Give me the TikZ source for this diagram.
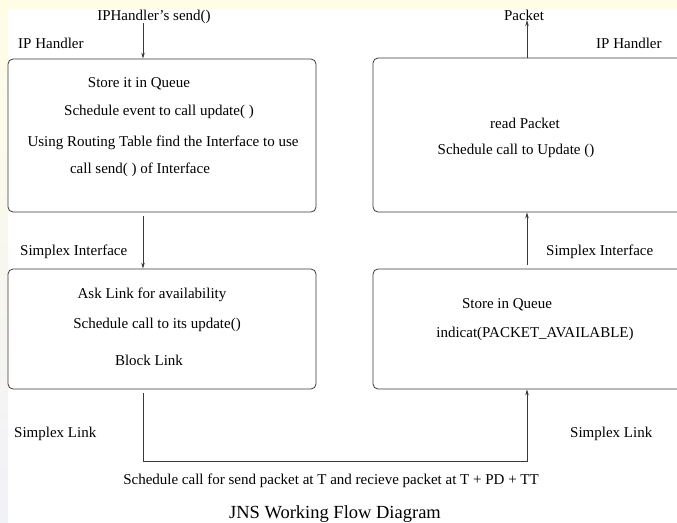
\documentclass[tikz,border=0pt]{standalone}
\usepackage{fontspec}
\setmainfont{Liberation Serif}
\usetikzlibrary{arrows.meta}
\definecolor{linecol}{HTML}{3A3A3A}
\definecolor{cream}{HTML}{FFFDE6}
\definecolor{lavender}{HTML}{F1F1F8}
\begin{document}
\begin{tikzpicture}[x=1pt,y=-1pt,
  box/.style={draw=linecol, line width=0.8pt, rounded corners=5pt, inner sep=0pt},
  lbl/.style={font=\fontsize{15}{18}\selectfont, inner sep=0pt, anchor=base},
  lblw/.style={lbl, anchor=base west},
  conn/.style={draw=linecol, line width=0.8pt},
  arr/.style={conn, -{Stealth[length=6pt,width=3.5pt]}}]
\useasboundingbox (0,0) rectangle (677,522);
\clip (0,0) rectangle (677,522);
% page background with tinted margins
\fill[white] (0,0) rectangle (677,522);
\fill[top color=cream, bottom color=lavender] (0,0) rectangle (8,522);
\fill[cream] (0,0) rectangle (677,9);

% the four boxes
\node[box, minimum width=308pt, minimum height=153pt] (box1) at (162,135.5) {};
\node[box, minimum width=308pt, minimum height=120pt] (box2) at (162,329) {};
\node[box, minimum width=317pt, minimum height=154pt] (box3) at (531.5,135) {};
\node[box, minimum width=317pt, minimum height=120pt] (box4) at (531.5,329) {};

% reference columns for the vertical connectors
\coordinate (lx) at (143,0);
\coordinate (rx) at (527,0);
\coordinate (low) at (0,461);
\coordinate (insrc) at (143,23);
\coordinate (outdst) at (527,20);

% labels outside the boxes
\node[lbl] (send) at (154,20) {IPHandler's send()};
\node[lblw] (iph1) at (18,48) {IP Handler};
\node[lblw] (sif1) at (20,255) {Simplex Interface};
\node[lblw] (slk1) at (14,437) {Simplex Link};
\node[lbl] (pkt) at (524,20) {Packet};
\node[lblw] (iph2) at (596,48) {IP Handler};
\node[lblw] (sif2) at (546,255) {Simplex Interface};
\node[lblw] (slk2) at (570,437) {Simplex Link};
\node[lbl] (sched) at (331,484) {Schedule call for send packet at T and recieve packet at T + PD + TT};
\node[lbl, font=\fontsize{18.5}{22}\selectfont] (title) at (335,518) {JNS Working Flow Diagram};

% text inside the boxes
\node[lbl] (b1a) at (139,87) {Store it in Queue};
\node[lbl] (b1b) at (159,115) {Schedule event to call update( )};
\node[lbl] (b1c) at (163,146) {Using Routing Table find the Interface to use};
\node[lbl] (b1d) at (140,173) {call send( ) of Interface};
\node[lbl] (b2a) at (152,298) {Ask Link for availability};
\node[lbl] (b2b) at (157,328) {Schedule call to its update()};
\node[lbl] (b2c) at (149,365) {Block Link};
\node[lbl] (b3a) at (525,128) {read Packet};
\node[lbl] (b3b) at (516,154) {Schedule call to Update ()};
\node[lbl] (b4a) at (507,308) {Store in Queue};
\node[lbl] (b4b) at (535,337) {indicat(PACKET\_AVAILABLE)};

% connectors
\draw[arr] (insrc) -- (box1.north -| lx);
\draw[arr, shorten <=4pt] (box1.south -| lx) -- (box2.north -| lx);
\draw[arr, shorten <=4pt] (box2.south -| lx) -- (lx |- low) -| (box4.south -| rx);
\draw[arr, shorten <=4pt] (box4.north -| rx) -- (box3.south -| rx);
\draw[arr] (box3.north -| rx) -- (outdst);
\end{tikzpicture}
\end{document}
